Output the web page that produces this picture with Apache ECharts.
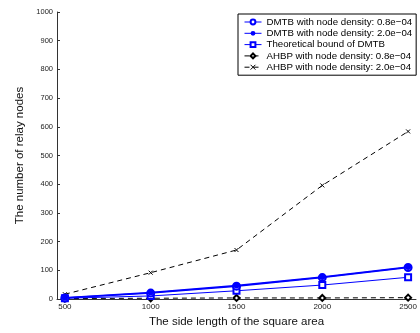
<!DOCTYPE html>
<html><head><meta charset="utf-8">
<script src="https://cdn.jsdelivr.net/npm/echarts@6/dist/echarts.min.js"></script>
<style>html,body{margin:0;padding:0;background:#fff}#c{width:420px;height:333px}</style>
</head><body><div id="c"></div>
<script>
const sideLengths = [500, 1000, 1500, 2000, 2500];
const dmtbLow = [4, 21, 45, 75, 110];
const dmtbHigh = [5, 23, 47, 77, 112];
const dmtbBound = [3, 11, 29, 49, 76];
const ahbpLow = [2, 3, 4, 4, 5];
const ahbpHigh = [17, 92, 171, 396, 584];
const xTicks = [500, 1000, 1500, 2000, 2500];
const yTicks = [0, 100, 200, 300, 400, 500, 600, 700, 800, 900, 1000];
const names = [
  'DMTB with node density: 0.8e\u221204',
  'DMTB with node density: 2.0e\u221204',
  'Theoretical bound of DMTB',
  'AHBP with node density: 0.8e\u221204',
  'AHBP with node density: 2.0e\u221204'
];
const pair = a => a.map((v, i) => [sideLengths[i], v]);
const font = 'Liberation Sans, Arial, sans-serif';
const chart = echarts.init(document.getElementById('c'));
const xPath = 'path://M0,0L10,10M10,0L0,10';
chart.setOption({
  animation: false,
  backgroundColor: '#fff',
  textStyle: {fontFamily: font},
  grid: {left: 57, top: 12, height: 288, width: 367},
  legend: {
    orient: 'vertical', left: 238, top: 14,
    backgroundColor: '#fff', borderColor: '#000', borderWidth: 1,
    padding: [3, 4, 3, 6], itemGap: 1.3, itemWidth: 17, itemHeight: 6,
    lineStyle: {width: 1},
    itemStyle: {borderWidth: 1},
    textStyle: {fontSize: 9.7, color: '#000', fontFamily: font, padding: [0, 0, 0, 0]},
    data: names
  },
  xAxis: {
    type: 'value', min: 454, max: 2546,
    axisLine: {lineStyle: {color: '#333', width: 1}},
    axisTick: {inside: true, length: 3, customValues: xTicks, lineStyle: {color: '#333'}},
    axisLabel: {customValues: xTicks, fontSize: 8, color: '#222', margin: 4, formatter: v => String(v)},
    splitLine: {show: false},
    name: 'The side length of the square area', nameLocation: 'middle', nameGap: 16,
    nameTextStyle: {fontSize: 11.5, color: '#111'}
  },
  yAxis: {
    type: 'value', min: 0, max: 1000,
    axisLine: {show: true, lineStyle: {color: '#333', width: 1}},
    axisTick: {show: true, inside: true, length: 3, customValues: yTicks, lineStyle: {color: '#333'}},
    axisLabel: {customValues: yTicks, fontSize: 7.5, color: '#222', margin: 4, formatter: v => String(v)},
    splitLine: {show: false},
    name: 'The number of relay nodes', nameLocation: 'middle', nameGap: 28,
    nameTextStyle: {fontSize: 11.5, color: '#111'}
  },
  series: [
    {name: names[3], type: 'line', data: pair(ahbpLow), symbol: 'emptyDiamond', symbolSize: 6,
     lineStyle: {color: '#000', width: 1, type: [5, 4]}, itemStyle: {color: '#000', borderWidth: 1}, z: 2},
    {name: names[4], type: 'line', data: pair(ahbpHigh), symbol: xPath, symbolSize: 4,
     lineStyle: {color: '#000', width: 1, type: [5, 4]}, itemStyle: {color: '#000', borderColor: '#000', borderWidth: 1}, z: 2},
    {name: names[2], type: 'line', data: pair(dmtbBound), symbol: 'emptyRect', symbolSize: 6,
     lineStyle: {color: '#0000ff', width: 1}, itemStyle: {color: '#0000ff', borderWidth: 1}, z: 3},
    {name: names[0], type: 'line', data: pair(dmtbLow), symbol: 'emptyCircle', symbolSize: 7,
     lineStyle: {color: '#0000ff', width: 1.5}, itemStyle: {color: '#0000ff', borderWidth: 1}, z: 3},
    {name: names[1], type: 'line', data: pair(dmtbHigh), symbol: 'circle', symbolSize: 6,
     lineStyle: {color: '#0000ff', width: 1.5}, itemStyle: {color: '#0000ff'}, z: 4}
  ]
});
</script></body></html>
